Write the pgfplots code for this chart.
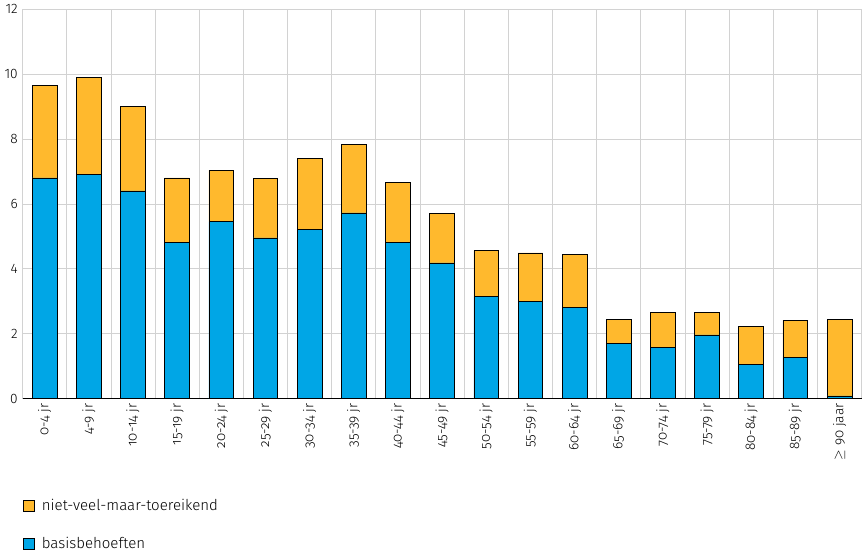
\documentclass[border=0pt]{standalone}
\usepackage{pgfplots}
\pgfplotsset{compat=1.18}
\usepackage{fontspec}
\setmainfont{Fira Sans Light}[Numbers=OldStyle]
\definecolor{cb}{HTML}{00A6E6}
\definecolor{co}{HTML}{FFB92D}
\begin{document}
\begin{tikzpicture}
\begin{axis}[
  scale only axis, width=612bp, height=284bp,
  ybar stacked, bar width=0.56,
  xmin=-0.5, xmax=18.5, ymin=0, ymax=12,
  xtick={0,...,18},
  xticklabels={0-4 jr,4-9 jr,10-14 jr,15-19 jr,20-24 jr,25-29 jr,30-34 jr,35-39 jr,40-44 jr,45-49 jr,50-54 jr,55-59 jr,60-64 jr,65-69 jr,70-74 jr,75-79 jr,80-84 jr,85-89 jr,{$\geq$ 90 jaar}},
  x tick label style={rotate=90, anchor=east, font=\fontsize{10}{12}\selectfont},
  y tick label style={font=\fontsize{10}{12}\selectfont\addfontfeatures{Numbers=Lining}},
  ytick={0,2,...,12},
  yticklabels={0,2,4,6,8,10,12},
  /pgf/number format/assume math mode=true,
  minor xtick={-0.5,0.5,...,18.5},
  xmajorgrids=false, xminorgrids=true, ymajorgrids=true,
  grid style={gray!35, line width=0.5pt},
  minor grid style={gray!35, line width=0.5pt},
  axis x line*=bottom, axis y line*=left,
  y axis line style={draw=none},
  x axis line style={black, line width=0.6pt},
  major tick length=0pt, minor tick length=0pt,
  tick style={draw=none},
  legend style={at={(rel axis cs:-0.005,-0.245)}, anchor=north west, draw=none, fill=none,
    font=\fontsize{11}{13}\selectfont, row sep=14pt, legend cell align=left,
    nodes={inner xsep=5pt}},
  reverse legend,
  legend image code/.code={\draw[#1] (0cm,-0.14cm) rectangle (0.3cm,0.16cm);},
]
\addplot[fill=cb, draw=black, line width=0.5pt] coordinates {
(0,6.8)(1,6.9)(2,6.4)(3,4.8)(4,5.45)(5,4.95)(6,5.2)(7,5.72)(8,4.81)(9,4.18)(10,3.14)(11,3.0)(12,2.82)(13,1.71)(14,1.58)(15,1.96)(16,1.04)(17,1.27)(18,0.08)};
\addlegendentry{basisbehoeften}
\addplot[fill=co, draw=black, line width=0.5pt] coordinates {
(0,2.85)(1,3.0)(2,2.59)(3,2.0)(4,1.58)(5,1.83)(6,2.2)(7,2.1)(8,1.84)(9,1.52)(10,1.42)(11,1.49)(12,1.61)(13,0.73)(14,1.08)(15,0.7)(16,1.18)(17,1.14)(18,2.37)};
\addlegendentry{niet-veel-maar-toereikend}
\end{axis}
\end{tikzpicture}
\end{document}
